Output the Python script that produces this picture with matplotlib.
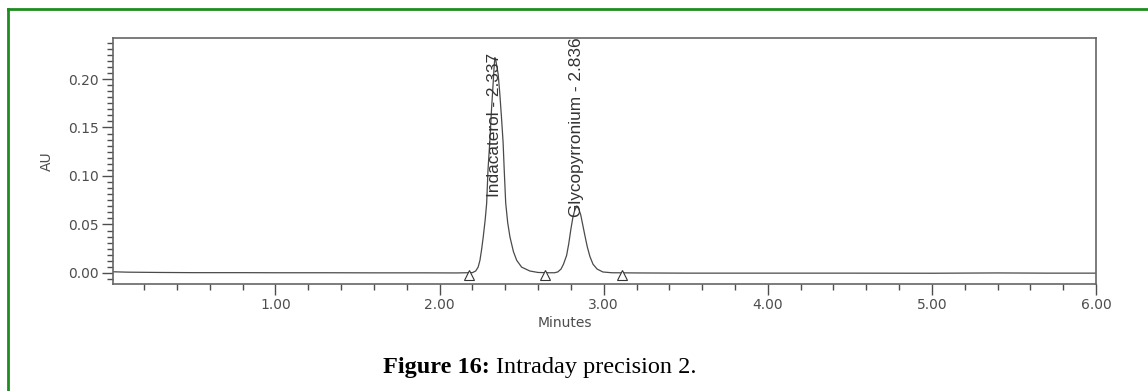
import matplotlib.pyplot as plt
from matplotlib.lines import Line2D
from matplotlib.ticker import MultipleLocator, AutoMinorLocator

# chromatogram trace (minutes, AU)
tempo = [0.01, 0.10, 0.30, 0.50, 0.80, 1.00, 1.30, 1.60, 1.90, 2.10, 2.20,
         2.22, 2.235, 2.246, 2.256, 2.266, 2.278, 2.287, 2.295, 2.307, 2.317,
         2.327, 2.332, 2.337, 2.342, 2.357, 2.367, 2.377, 2.387, 2.394, 2.403,
         2.415, 2.429, 2.45, 2.47, 2.50, 2.55, 2.60, 2.66,
         2.70, 2.72, 2.74, 2.755, 2.774, 2.787, 2.80, 2.812, 2.824, 2.836,
         2.848, 2.86, 2.872, 2.885, 2.90, 2.916, 2.935, 2.96, 2.995, 3.05,
         3.20, 3.50, 4.00, 4.50, 5.00, 5.40, 5.70, 6.00]
absorbancia = [0.0012, 0.0008, 0.0005, 0.0003, 0.0003, 0.0002, 0.0002, 0.0001,
               0.0001, 0.0000, 0.0003,
               0.002, 0.006, 0.013, 0.024, 0.037, 0.055, 0.072, 0.106, 0.138,
               0.170, 0.197, 0.212, 0.222, 0.220, 0.205, 0.185, 0.161, 0.135,
               0.106, 0.072, 0.052, 0.037, 0.022, 0.013, 0.006, 0.002, 0.0005,
               0.0002,
               0.0002, 0.001, 0.004, 0.009, 0.018, 0.030, 0.045, 0.057, 0.065,
               0.069, 0.066, 0.060, 0.050, 0.039, 0.027, 0.017, 0.009, 0.004,
               0.001, 0.0002,
               0.0, -0.0002, -0.0002, -0.0002, -0.0003, 0.0, -0.0002, -0.0002]

picos = ['Indacaterol - 2.337', 'Glycopyrronium - 2.836']
picos_tempo = [2.337, 2.836]
picos_rotulo_y = [0.078, 0.058]

# integration baseline markers
marcas_tempo = [2.18, 2.64, 3.11]
marcas_y = [-0.0025, -0.0025, -0.0025]

W, H = 1148, 391
fig = plt.figure(figsize=(W / 100, H / 100), dpi=100)
ax = fig.add_axes([113 / W, 1 - 284 / H, 983 / W, 246 / H])

cinza = '#4d4d4d'
ax.plot(tempo, absorbancia, color='#4a4a4a', linewidth=0.9)
ax.plot(marcas_tempo, marcas_y, linestyle='none', marker='^', markersize=6.5,
        markerfacecolor='white', markeredgecolor='#333333', markeredgewidth=0.8)

for nome, t, y in zip(picos, picos_tempo, picos_rotulo_y):
    ax.text(t, y, nome, rotation=90, ha='center', va='bottom', fontsize=12.4,
            family='Liberation Sans', color='#333333')

ax.set_xlim(0.01, 6.0)
ax.set_ylim(-0.0114, 0.2423)
ax.xaxis.set_major_locator(MultipleLocator(1.0))
ax.xaxis.set_minor_locator(MultipleLocator(0.2))
ax.yaxis.set_major_locator(MultipleLocator(0.05))
ax.yaxis.set_minor_locator(AutoMinorLocator(8))
ax.xaxis.set_major_formatter(lambda v, p: f'{v:.2f}')
ax.yaxis.set_major_formatter(lambda v, p: f'{v:.2f}')

ax.tick_params(which='major', direction='out', length=8, width=1, color=cinza,
               labelsize=10, labelcolor=cinza, pad=2)
ax.tick_params(which='minor', direction='out', length=4, width=1, color=cinza)
for lab in ax.get_xticklabels() + ax.get_yticklabels():
    lab.set_family('DejaVu Sans')
for s in ax.spines.values():
    s.set_color('#666666')
    s.set_linewidth(1.2)

fig.text(47 / W, 1 - 161 / H, 'AU', rotation=90, ha='center', va='center',
         fontsize=10, family='DejaVu Sans', color=cinza)
fig.text(565 / W, 1 - 323 / H, 'Minutes', ha='center', va='center',
         fontsize=10, family='DejaVu Sans', color=cinza)

# caption: bold part then regular part
t1 = fig.text(383 / W, 1 - 368 / H, 'Figure 16:', ha='left', va='center',
              fontsize=17.5, family='Liberation Serif', weight='bold', color='black')
fig.canvas.draw()
bb = t1.get_window_extent()
fig.text((bb.x1 + 6) / W, 1 - 368 / H, 'Intraday precision 2.', ha='left',
         va='center', fontsize=17.5, family='Liberation Serif', color='black')

# green frame (top and left edges visible in the crop)
verde = '#1e8c1e'
fig.add_artist(Line2D([8 / W, 1.0], [1 - 9 / H, 1 - 9 / H], color=verde,
                      linewidth=2, transform=fig.transFigure))
fig.add_artist(Line2D([8 / W, 8 / W], [0.0, 1 - 9 / H], color=verde,
                      linewidth=2, transform=fig.transFigure))

fig.savefig('out.png', dpi=100)
